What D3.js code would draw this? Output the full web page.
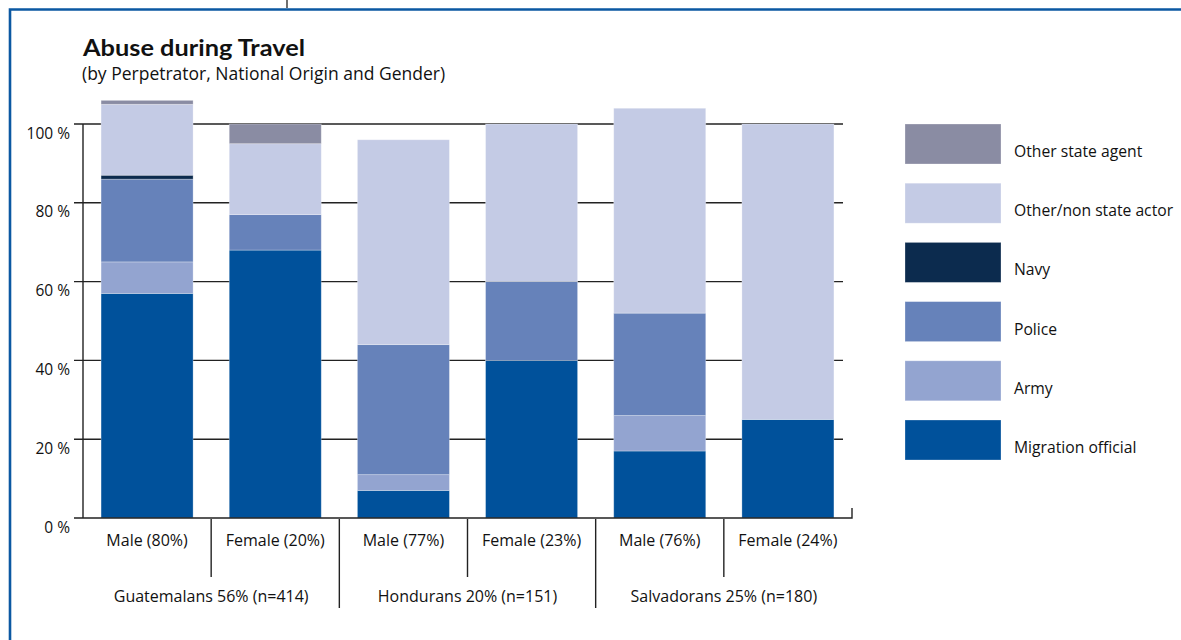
<!DOCTYPE html>
<html>
<head>
<meta charset="utf-8">
<script src="https://cdn.jsdelivr.net/npm/d3@7"></script>
<style>
  html, body { margin: 0; padding: 0; background: #fff; }
  svg { display: block; font-family: "Open Sans", "Noto Sans", sans-serif; }
</style>
</head>
<body>
<svg id="chart" width="1181" height="640"></svg>
<script>
// ---- data ----
const genders = ["Male (80%)", "Female (20%)", "Male (77%)", "Female (23%)", "Male (76%)", "Female (24%)"];
const groups = ["Guatemalans 56% (n=414)", "Hondurans 20% (n=151)", "Salvadorans 25% (n=180)"];
const seriesNames = ["Migration official", "Army", "Police", "Navy", "Other/non state actor", "Other state agent"];
const migrationOfficial = [57, 68, 7, 40, 17, 25];
const army              = [8, 0, 4, 0, 9, 0];
const police            = [21, 9, 33, 20, 26, 0];
const navy              = [1, 0, 0, 0, 0, 0];
const otherNonState     = [18, 18, 52, 40, 52, 75];
const otherStateAgent   = [1, 5, 0, 0, 0, 0];
const yTicks = [0, 20, 40, 60, 80, 100];
const colors = ["#00519b", "#93a4d0", "#6682ba", "#0c2b4e", "#c4cbe5", "#8a8ca3"];

const seriesValues = [migrationOfficial, army, police, navy, otherNonState, otherStateAgent];
const rows = genders.map((g, i) => {
  const r = { gender: g };
  seriesNames.forEach((s, k) => r[s] = seriesValues[k][i]);
  return r;
});

const svg = d3.select("#chart");

// frame
svg.append("line").attr("x1", 287).attr("x2", 287).attr("y1", 0).attr("y2", 8)
  .attr("stroke", "#222").attr("stroke-width", 1.3);
svg.append("path").attr("d", "M10,640 L10,9.5 L1181,9.5")
  .attr("fill", "none").attr("stroke", "#0b58a2").attr("stroke-width", 2.6);

// title
svg.append("text").attr("x", 83).attr("y", 56).text("Abuse during Travel")
  .attr("font-family", "Lato, 'Open Sans', sans-serif")
  .attr("font-size", 22.5).attr("font-weight", "bold").attr("fill", "#111")
  .attr("textLength", 222).attr("lengthAdjust", "spacingAndGlyphs");
svg.append("text").attr("x", 82).attr("y", 80).text("(by Perpetrator, National Origin and Gender)")
  .attr("font-size", 17.5).attr("fill", "#111");

// scales
const x = d3.scaleBand().domain(genders).range([83, 852]).paddingInner(0.282).paddingOuter(0.141);
const y = d3.scaleLinear().domain([0, 100]).range([518, 124]);
const color = d3.scaleOrdinal().domain(seriesNames).range(colors);

// gridlines
const grid = svg.append("g");
grid.selectAll("line").data(yTicks.filter(t => t > 0)).join("line")
  .attr("x1", 74).attr("x2", 843)
  .attr("y1", d => y(d)).attr("y2", d => y(d))
  .attr("stroke", "#222").attr("stroke-width", 1.4);

// y axis line
svg.append("line").attr("x1", 83).attr("x2", 83).attr("y1", y(0)).attr("y2", y(100))
  .attr("stroke", "#222").attr("stroke-width", 1.4);

// y tick labels
svg.append("g").selectAll("text").data(yTicks).join("text")
  .attr("x", 70).attr("y", d => y(d) + 14.5)
  .attr("text-anchor", "end").attr("font-size", 15.5).attr("fill", "#111")
  .text(d => d + " %");

// stacked bars
const stack = d3.stack().keys(seriesNames)(rows);
svg.append("g").selectAll("g").data(stack).join("g")
  .attr("fill", d => color(d.key))
  .selectAll("rect").data(d => d.filter(p => p[1] - p[0] > 0)).join("rect")
  .attr("x", d => x(d.data.gender))
  .attr("width", x.bandwidth())
  .attr("y", d => y(d[1]))
  .attr("height", d => y(d[0]) - y(d[1]))
  .attr("stroke", "rgba(255,255,255,0.35)").attr("stroke-width", 0.8);

// baseline + end tick
svg.append("path").attr("d", `M74,${y(0)} L852,${y(0)} L852,${y(0) - 10}`)
  .attr("fill", "none").attr("stroke", "#222").attr("stroke-width", 1.4);

// x separators
const step = x.step();
const seps = d3.range(1, genders.length);
svg.append("g").selectAll("line").data(seps).join("line")
  .attr("x1", k => x(genders[k]) - (step - x.bandwidth()) / 2)
  .attr("x2", k => x(genders[k]) - (step - x.bandwidth()) / 2)
  .attr("y1", y(0) + 1)
  .attr("y2", k => (k % 2 === 0) ? 608 : 577)
  .attr("stroke", "#222").attr("stroke-width", 1.4);

// gender labels
svg.append("g").selectAll("text").data(genders).join("text")
  .attr("x", d => x(d) + x.bandwidth() / 2).attr("y", 546)
  .attr("text-anchor", "middle").attr("font-size", 16).attr("fill", "#111")
  .text(d => d);

// group labels
svg.append("g").selectAll("text").data(groups).join("text")
  .attr("x", (d, i) => (x(genders[2 * i]) + x(genders[2 * i + 1]) + x.bandwidth()) / 2)
  .attr("y", 602)
  .attr("text-anchor", "middle").attr("font-size", 16).attr("fill", "#111")
  .text(d => d);

// legend (top to bottom: reverse of stack order)
const legendItems = seriesNames.slice().reverse();
const lg = svg.append("g").selectAll("g").data(legendItems).join("g")
  .attr("transform", (d, i) => `translate(905, ${124 + i * 59.2})`);
lg.append("rect").attr("width", 96).attr("height", 40)
  .attr("fill", d => color(d))
  .attr("stroke", "rgba(255,255,255,0.35)").attr("stroke-width", 0.8);
lg.append("text").attr("x", 109).attr("y", 33)
  .attr("font-size", 15.7).attr("fill", "#111").text(d => d);
</script>
</body>
</html>
